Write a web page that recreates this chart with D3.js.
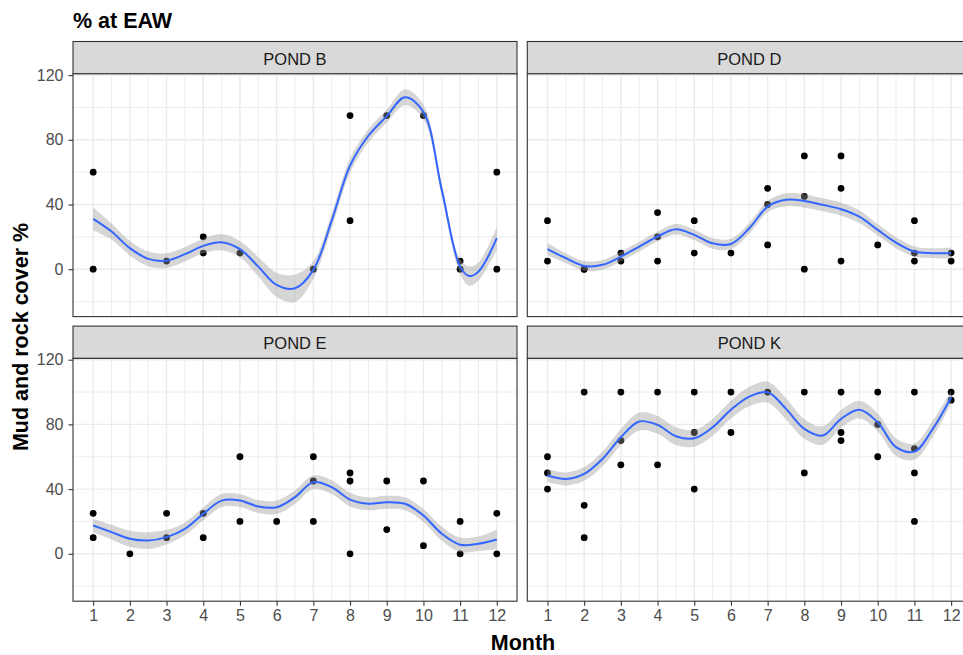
<!DOCTYPE html>
<html>
<head>
<meta charset="utf-8">
<script src="https://cdn.jsdelivr.net/npm/d3@7"></script>
<style>
  html, body { margin: 0; padding: 0; background: #fff; overflow: hidden; }
  svg { display: block; font-family: "Liberation Sans", Arial, sans-serif; }
</style>
</head>
<body>
<svg id="chart" width="963" height="655"></svg>
<script>
// ---------------- DATA ----------------
const monthTicks = [1,2,3,4,5,6,7,8,9,10,11,12];
const yTicks = [0, 40, 80, 120];
const yMinorTicks = [-20, 20, 60, 100];
const pondNames = ["POND B", "POND D", "POND E", "POND K"];

// observed points [month, value]
const pondBPoints = [[1,60],[1,0],[3,5],[4,20],[4,10],[5,10],[7,0],[8,95],[8,30],[9,95],[10,95],[11,5],[11,0],[12,60],[12,0]];
const pondDPoints = [[1,30],[1,5],[2,0],[2,0],[3,10],[3,5],[4,35],[4,20],[4,5],[5,30],[5,10],[6,10],[7,50],[7,40],[7,15],[8,70],[8,45],[8,0],[9,70],[9,50],[9,5],[10,15],[11,30],[11,10],[11,5],[12,10],[12,5]];
const pondEPoints = [[1,25],[1,10],[2,0],[3,25],[3,10],[4,25],[4,10],[5,60],[5,20],[6,20],[7,60],[7,45],[7,20],[8,50],[8,45],[8,0],[9,45],[9,15],[10,45],[10,5],[11,20],[11,0],[12,25],[12,0]];
const pondKPoints = [[1,60],[1,50],[1,40],[2,100],[2,30],[2,10],[3,100],[3,70],[3,55],[4,100],[4,55],[5,100],[5,75],[5,40],[6,100],[6,75],[7,100],[8,100],[8,50],[9,100],[9,75],[9,70],[10,100],[10,80],[10,60],[11,100],[11,65],[11,50],[11,20],[12,100],[12,95]];

// smoother (loess) fit
const fitMonths = [1,1.5,2,2.5,3,3.5,4,4.5,5,5.5,6,6.5,7,7.5,8,8.5,9,9.5,10,10.5,11,11.5,12];
const fitMonthsB = [1,1.5,2,2.5,3,3.5,4,4.5,5,5.5,6,6.5,7,7.5,8,8.5,9,9.5,10,10.5,11,11.25,11.5,12];
const pondBFit = [31.1,23.3,13,6.4,5.3,9.3,14.4,16.7,12.4,1.6,-9.7,-11.8,-0.4,30,64,82.5,94.6,106.3,97.2,49,1.6,-4.2,-1.5,19.2];
const pondBSe  = [7,5,4.5,4.5,4.5,4.5,4.5,5,5,6,7.5,8.5,5.5,4.5,4.5,4,4,5,4.5,4,4.5,6,5.5,7];
const pondDFit = [12.4,6.8,2,2.7,7.8,14,20.2,24.7,21.2,16,15.6,25.3,38.7,42.9,42.2,39.8,37.1,32.5,24.3,16.4,10.9,9.9,9.9];
const pondDSe  = [3.8,3,3,3,3,3,3,3.2,3.2,3.3,3.3,3.3,3.5,4,4.2,4,4,4,3.5,3.5,3.2,3,3.5];
const pondEFit = [17.5,13.4,9.3,8.2,10.3,15.4,24.7,32.9,33,29.2,28.8,35,44.3,41.2,33.5,30.9,31.9,30.9,23.7,12.4,5.6,6.2,8.8];
const pondESe  = [4.2,4.5,5,5.2,4.5,4,4,4,4,4,4.2,4.2,4.3,4.3,4.3,4,4,4,4,4.3,4.5,4.5,6];
const pondKFit = [48.4,46.3,49.4,58.7,72.1,81.8,79.7,72.7,71.4,78.2,89.1,97.2,99.9,89.6,77.2,73.1,83.4,89.1,81.3,65.9,63.2,77.2,96.8];
const pondKSe  = [4,4,4.2,4.5,5,5.5,5.5,5.5,5.2,5.2,5.5,6,6.5,6.5,6,5.7,5.5,5.5,5.5,5.5,5,5,4];

// ---------------- LAYOUT ----------------
const svg = d3.select("#chart");
const panelW = 444, panelH = 242.8, stripH = 32.3;
const col0 = 73, col1 = 527.3;
const row0 = 41.5, row1 = 326.1;
const panels = [
  { name: pondNames[0], pts: pondBPoints, fx: fitMonthsB, fit: pondBFit, se: pondBSe, x0: col0, y0: row0, left: true,  bottom: false },
  { name: pondNames[1], pts: pondDPoints, fx: fitMonths,  fit: pondDFit, se: pondDSe, x0: col1, y0: row0, left: false, bottom: false },
  { name: pondNames[2], pts: pondEPoints, fx: fitMonths,  fit: pondEFit, se: pondESe, x0: col0, y0: row1, left: true,  bottom: true },
  { name: pondNames[3], pts: pondKPoints, fx: fitMonths,  fit: pondKFit, se: pondKSe, x0: col1, y0: row1, left: false, bottom: true }
];

const x = d3.scaleLinear().domain([0.45, 12.55]).range([0, panelW]);
const y = d3.scaleLinear().domain([-29.3, 120.8]).range([panelH, 0]);
const xMinor = d3.range(1.5, 12.5, 1);

// title
svg.append("text").attr("x", 73).attr("y", 27.5)
  .attr("font-size", 21.5).attr("font-weight", "bold").attr("fill", "#000")
  .text("% at EAW");

panels.forEach(p => {
  const g = svg.append("g").attr("transform", `translate(${p.x0},${p.y0})`);
  // strip
  g.append("rect").attr("x", 0).attr("y", 0).attr("width", panelW).attr("height", stripH)
    .attr("fill", "#D9D9D9").attr("stroke", "#333").attr("stroke-width", 1.1);
  g.append("text").attr("x", panelW / 2).attr("y", stripH / 2 + 1)
    .attr("text-anchor", "middle").attr("dominant-baseline", "central")
    .attr("font-size", 16.5).attr("fill", "#1A1A1A").text(p.name);

  const pg = g.append("g").attr("transform", `translate(0,${stripH})`);
  pg.append("rect").attr("width", panelW).attr("height", panelH).attr("fill", "#fff");

  const defsId = "clip" + p.name.replace(/\s/g, "");
  pg.append("clipPath").attr("id", defsId).append("rect").attr("width", panelW).attr("height", panelH);

  const grid = pg.append("g");
  grid.selectAll(".ym").data(yMinorTicks).join("line")
    .attr("x1", 0).attr("x2", panelW).attr("y1", d => y(d)).attr("y2", d => y(d))
    .attr("stroke", "#EBEBEB").attr("stroke-width", 0.9);
  grid.selectAll(".xm").data(xMinor).join("line")
    .attr("y1", 0).attr("y2", panelH).attr("x1", d => x(d)).attr("x2", d => x(d))
    .attr("stroke", "#EBEBEB").attr("stroke-width", 0.9);
  grid.selectAll(".yM").data(yTicks).join("line")
    .attr("x1", 0).attr("x2", panelW).attr("y1", d => y(d)).attr("y2", d => y(d))
    .attr("stroke", "#EBEBEB").attr("stroke-width", 1.4);
  grid.selectAll(".xM").data(monthTicks).join("line")
    .attr("y1", 0).attr("y2", panelH).attr("x1", d => x(d)).attr("x2", d => x(d))
    .attr("stroke", "#EBEBEB").attr("stroke-width", 1.4);

  const plot = pg.append("g").attr("clip-path", `url(#${defsId})`);
  // points
  plot.selectAll("circle").data(p.pts).join("circle")
    .attr("cx", d => x(d[0])).attr("cy", d => y(d[1])).attr("r", 3.4).attr("fill", "#000");

  const fitData = p.fx.map((m, i) => ({ m, v: p.fit[i], s: p.se[i] }));
  const curve = d3.curveCatmullRom.alpha(0.5);
  plot.append("path").datum(fitData)
    .attr("d", d3.area().x(d => x(d.m)).y0(d => y(d.v - d.s)).y1(d => y(d.v + d.s)).curve(curve))
    .attr("fill", "#999999").attr("fill-opacity", 0.4);
  plot.append("path").datum(fitData)
    .attr("d", d3.line().x(d => x(d.m)).y(d => y(d.v)).curve(curve))
    .attr("fill", "none").attr("stroke", "#3366FF").attr("stroke-width", 2);

  // border
  pg.append("rect").attr("width", panelW).attr("height", panelH)
    .attr("fill", "none").attr("stroke", "#333").attr("stroke-width", 1.1);

  if (p.left) {
    const ax = pg.append("g").call(d3.axisLeft(y).tickValues(yTicks).tickSize(4.5).tickPadding(5).tickFormat(d3.format("d")));
    ax.select(".domain").remove();
    ax.selectAll(".tick line").attr("stroke", "#333").attr("stroke-width", 1.1);
    ax.selectAll(".tick text").attr("font-size", 16).attr("fill", "#4D4D4D")
      .attr("font-family", "Liberation Sans, Arial, sans-serif");
  }
  if (p.bottom) {
    const ax = pg.append("g").attr("transform", `translate(0,${panelH})`)
      .call(d3.axisBottom(x).tickValues(monthTicks).tickSize(4.5).tickPadding(4).tickFormat(d3.format("d")));
    ax.select(".domain").remove();
    ax.selectAll(".tick line").attr("stroke", "#333").attr("stroke-width", 1.1);
    ax.selectAll(".tick text").attr("font-size", 16).attr("fill", "#4D4D4D")
      .attr("font-family", "Liberation Sans, Arial, sans-serif");
  }
});

// axis titles
svg.append("text").attr("x", 523).attr("y", 650)
  .attr("text-anchor", "middle").attr("font-size", 21.5).attr("font-weight", "bold").attr("fill", "#000")
  .text("Month");
svg.append("text").attr("transform", "translate(28,337) rotate(-90)")
  .attr("text-anchor", "middle").attr("font-size", 21.5).attr("font-weight", "bold").attr("fill", "#000")
  .text("Mud and rock cover %");
</script>
</body>
</html>
